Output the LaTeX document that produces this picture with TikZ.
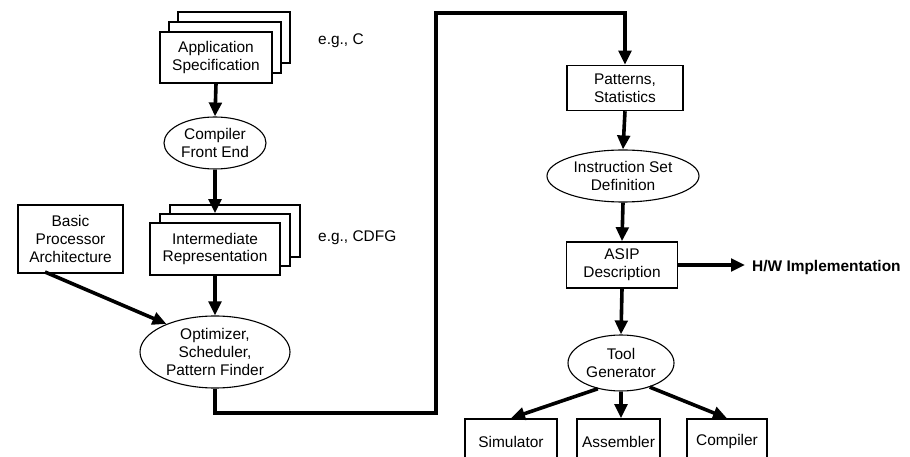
\documentclass[tikz,border=0pt]{standalone}
\usepackage{fontspec}
\setmainfont{Liberation Sans}
\usetikzlibrary{arrows.meta,shapes.geometric}
\begin{document}
\begin{tikzpicture}[x=1bp,y=-1bp,
  every node/.style={font=\fontsize{15.5}{18}\selectfont, align=center, inner sep=0pt},
  boxnode/.style={draw, line width=1.5bp, fill=white, minimum width=#1},
  oval/.style={ellipse, draw, line width=1.1bp, fill=white},
  flow/.style={line width=3.6bp, -{Triangle[length=14bp,width=12.5bp]}}]
\useasboundingbox (0,0) rectangle (910,457);
\clip (0,0) rectangle (910,457);

% stacked document: application specification
\node[boxnode=112bp, minimum height=51bp] (appC) at (234,37.5) {};
\node[boxnode=112bp, minimum height=51bp] (appB) at (225,47.5) {};
\node[boxnode=112bp, minimum height=51bp] (app) at (216,57.5) {Application\\Specification};
\node[anchor=west] (egc) at (318,41) {e.g., C};

\node[oval, minimum width=102bp, minimum height=52bp] (cfe) at (215,143) {Compiler\\Front End};

% stacked document: intermediate representation
\node[boxnode=130bp, minimum height=52bp] (irC) at (235,231) {};
\node[boxnode=130bp, minimum height=52bp] (irB) at (225,240) {};
\node[boxnode=130bp, minimum height=52bp] (ir) at (215,249) {Intermediate\\Representation};
\node[anchor=west] (egcdfg) at (318,238) {e.g., CDFG};

\node[boxnode=105bp, minimum height=68bp] (bpa) at (70.5,239) {Basic\\Processor\\Architecture};

\node[oval, minimum width=150bp, minimum height=72bp] (opt) at (215,352) {Optimizer,\\Scheduler,\\Pattern Finder};

\node[boxnode=116bp, minimum height=45bp] (pat) at (625,88) {Patterns,\\Statistics};
\node[oval, minimum width=152bp, minimum height=52bp] (isd) at (623,176) {Instruction Set\\Definition};
\node[boxnode=111bp, minimum height=46bp] (asip) at (622,265) {ASIP\\Description};
\node[anchor=west, font=\fontsize{15.5}{18}\selectfont\bfseries] (hw) at (752,268) {H/W Implementation};
\node[oval, minimum width=106bp, minimum height=56bp] (tool) at (621,363) {Tool\\Generator};

\node[boxnode=92bp, minimum height=46bp] (sim) at (511,442) {Simulator};
\node[boxnode=83bp, minimum height=46bp] (asm) at (618.5,442) {Assembler};
\node[boxnode=80bp, minimum height=46bp] (comp) at (727,442) {Compiler};

\coordinate (hwend) at (745,265);
\coordinate (bpastart) at (45,272);
\coordinate (down) at (215,413);
\coordinate (right) at (436,413);
\coordinate (up) at (436,13);
\coordinate (over) at (625,13);

% connectors
\draw[flow] (app.south) -- (cfe.north);
\draw[flow] (cfe.south) -- (irB.north -| cfe.south);
\draw[flow] (ir.south) -- (opt.north);
\draw[flow] (bpastart) -- (opt.150);
\draw[flow] (opt.south) -- (down) -- (right) -- (up) -- (over) -- (pat.north);
\draw[flow] (pat.south) -- (isd.north);
\draw[flow] (isd.south) -- (asip.north);
\draw[flow] (asip.east) -- (hwend);
\draw[flow] (asip.south) -- (tool.north);
\draw[flow] (tool.228) -- (sim.north);
\draw[flow] (tool.south) -- (tool.south |- asm.north);
\draw[flow] (tool.-40) -- (comp.north);
\end{tikzpicture}
\end{document}
